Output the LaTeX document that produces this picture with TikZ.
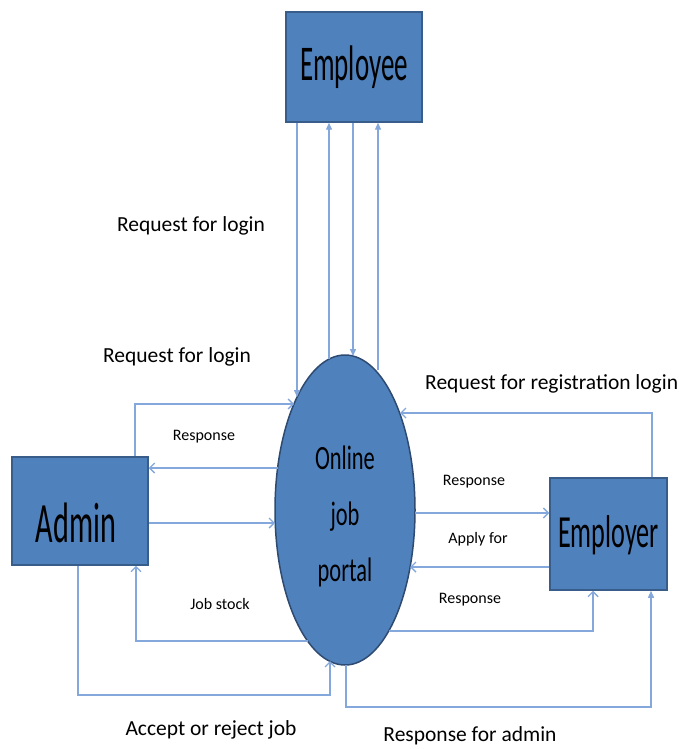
\documentclass[tikz,border=0pt]{standalone}
\usepackage{fontspec}
\setmainfont{Carlito}
\usepackage{graphicx}
\usetikzlibrary{shapes.geometric,arrows.meta}
\definecolor{boxblue}{HTML}{4F81BD}
\definecolor{boxedge}{HTML}{385D8A}
\definecolor{elledge}{HTML}{2E4A70}
\definecolor{lineblue}{HTML}{84A7DC}
\newcommand{\sqz}[2]{\scalebox{#1}[1]{#2}}
\begin{document}
\begin{tikzpicture}[x=1pt,y=-1pt,
 entity/.style={draw=boxedge, line width=1.5pt, fill=boxblue, rectangle, inner sep=0pt},
 proc/.style={draw=elledge, line width=1.5pt, fill=boxblue, ellipse, inner sep=0pt, minimum width=140pt, minimum height=310pt},
 flow/.style={draw=lineblue, line width=1.4pt},
 openhead/.style={-{Straight Barb[length=5pt,width=10pt]}},
 fillhead/.style={-{Triangle[length=7pt,width=6pt]}},
 midlbl/.style={font=\fontsize{21.5}{25}\selectfont, inner sep=0pt},
 smlbl/.style={font=\fontsize{16}{19}\selectfont, inner sep=0pt},
]
\useasboundingbox (0,0) rectangle (678,749);

% entities
\node[entity, minimum width=136pt, minimum height=110pt, font=\fontsize{50}{60}\selectfont] (emp) at (354,67) {\sqz{0.54}{Employee}};
\node[entity, minimum width=136pt, minimum height=108pt,
  label={[font=\fontsize{57}{68}\selectfont, inner sep=0pt, xshift=-4pt, yshift=-12pt]center:\sqz{0.53}{Admin}}] (adm) at (80,511) {};
\node[entity, minimum width=117pt, minimum height=112pt,
  label={[font=\fontsize{46}{55}\selectfont, inner sep=0pt, yshift=-1pt]center:\sqz{0.57}{Employer}}] (empr) at (608.5,534) {};
\node[proc,
  label={[font=\fontsize{34}{56}\selectfont, align=center, inner sep=0pt, yshift=-6pt]center:{\sqz{0.66}{Online}\\\sqz{0.66}{job}\\\sqz{0.66}{portal}}}] (port) at (345,510) {};

% border points on ellipse
\coordinate (e1) at (297,397);
\coordinate (e2) at (329,359);
\coordinate (e3) at (353,356);
\coordinate (e4) at (378,370);
\coordinate (a1) at (294,404);
\coordinate (a2) at (278,468);
\coordinate (a3) at (275,523);
\coordinate (a4) at (308,641);
\coordinate (a5) at (330,661);
\coordinate (b1) at (400,413);
\coordinate (b2) at (415,513);
\coordinate (b3) at (410,567);
\coordinate (b4) at (389,631);
\coordinate (b5) at (346,665);
% corners
\coordinate (c135) at (135,404);
\coordinate (c136) at (136,641);
\coordinate (c78) at (78,695);
\coordinate (c652) at (652,413);
\coordinate (c593) at (593,631);
\coordinate (c651) at (651,707);

% Employee <-> portal
\draw[flow, fillhead] (emp.south -| e1) -- (e1);
\draw[flow, fillhead] (e2) -- (emp.south -| e2);
\draw[flow, fillhead] (emp.south -| e3) -- (e3);
\draw[flow, fillhead] (e4) -- (emp.south -| e4);

% Admin <-> portal
\draw[flow, openhead] (adm.north -| c135) -- (c135) -- (a1);
\draw[flow, openhead] (a2) -- (a2 -| adm.east);
\draw[flow, openhead] (a3 -| adm.east) -- (a3);
\draw[flow, openhead] (a4) -- (c136) -- (c136 |- adm.south);
\draw[flow, openhead] (adm.south -| c78) -- (c78) -- (c78 -| a5) -- (a5);

% Employer <-> portal
\draw[flow, openhead] (empr.north -| c652) -- (c652) -- (b1);
\draw[flow, openhead] (b2) -- (b2 -| empr.west);
\draw[flow, openhead] (b3 -| empr.west) -- (b3);
\draw[flow, openhead] (b4) -- (c593) -- (c593 |- empr.south);
\draw[flow, fillhead] (b5) -- (b5 |- c651) -- (c651) -- (c651 |- empr.south);

% labels
\node[midlbl] (l1) at (191,226) {Request for login};
\node[midlbl] (l2) at (177,357) {Request for login};
\node[smlbl] (l3) at (204,437) {Response};
\node[smlbl] (l4) at (220,604) {Job stock};
\node[midlbl] (l5) at (211,730) {Accept or reject job};
\node[midlbl] (l6) at (470,736) {Response for admin};
\node[midlbl, anchor=west] (l7) at (425,384) {Request for registration login};
\node[smlbl] (l8) at (474,482) {Response};
\node[smlbl] (l9) at (478,539) {Apply for};
\node[smlbl] (l10) at (470,600) {Response};
\end{tikzpicture}
\end{document}
